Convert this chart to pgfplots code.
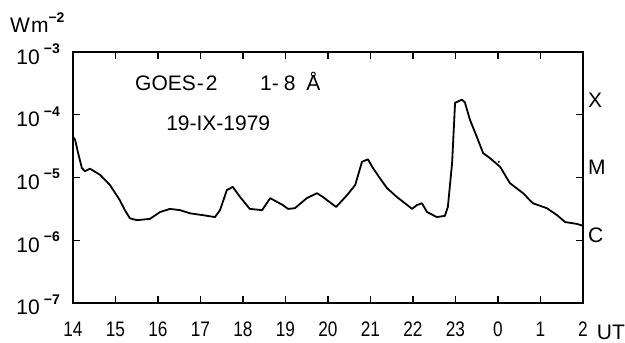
\documentclass[border=0pt]{standalone}
\usepackage{pgfplots}
\pgfplotsset{compat=1.18}
\usepackage{fontspec}
\setmainfont{Liberation Sans}
\newfontfamily\tickfont[FakeStretch=0.82]{Liberation Sans}
\newcommand{\tf}{\tickfont\fontsize{21}{24}\selectfont}
\newcommand{\yf}{\fontsize{21}{24}\selectfont}
\newcommand{\bodyf}{\fontsize{21}{24}\selectfont}
\newcommand{\ex}[1]{10\kern4pt\raisebox{0.5em}{\fontsize{14}{14}\selectfont\bfseries −#1}}
\begin{document}
\fontsize{21}{25}\selectfont
\begin{tikzpicture}[font=\bodyf]
\begin{axis}[
  at={(0,0)}, anchor=south west,
  scale only axis, width=510pt, height=251pt,
  xmin=14, xmax=26, ymode=log, ymin=1e-7, ymax=1e-3,
  xtick={14,...,26},
  xticklabels={14,15,16,17,18,19,20,21,22,23,0,1,2},
  ytick={1e-7,1e-6,1e-5,1e-4,1e-3},
  yticklabels={\ex{7},\ex{6},\ex{5},\ex{4},\ex{3}},
  yminorticks=false,
  tick align=inside, major tick length=7pt,
  xtick pos=both, ytick pos=both,
  tick style={line width=1.2pt, black},
  axis line style={line width=1.6pt},
  xticklabel style={font=\tf, inner sep=0pt, yshift=-19pt},
  yticklabel style={font=\yf, inner sep=0pt, xshift=-13pt, yshift=-2pt},
  every node/.append style={font=\bodyf},
  clip=false,
]
\addplot[black, line width=1.8pt, line join=round] coordinates {
(14.00,4.47e-5) (14.05,3.98e-5) (14.12,2.45e-5) (14.21,1.41e-5) (14.28,1.26e-5)
(14.40,1.38e-5) (14.64,1.10e-5) (14.87,7.59e-6) (15.10,4.37e-6) (15.22,3.02e-6)
(15.34,2.24e-6) (15.50,2.09e-6) (15.81,2.19e-6) (16.05,2.82e-6) (16.28,3.16e-6)
(16.52,3.02e-6) (16.75,2.69e-6) (17.06,2.51e-6) (17.34,2.34e-6) (17.46,3.02e-6)
(17.62,6.31e-6) (17.76,7.08e-6) (17.93,4.90e-6) (18.16,3.16e-6) (18.45,3.02e-6)
(18.64,4.68e-6) (18.94,3.63e-6) (19.06,3.16e-6) (19.22,3.24e-6) (19.50,4.68e-6)
(19.74,5.62e-6) (19.88,4.90e-6) (20.19,3.39e-6) (20.45,5.25e-6) (20.64,7.59e-6)
(20.80,1.78e-5) (20.94,1.95e-5) (21.06,1.41e-5) (21.22,9.77e-6) (21.39,6.76e-6)
(21.62,4.90e-6) (21.98,3.16e-6) (22.09,3.63e-6) (22.21,3.89e-6) (22.33,2.82e-6)
(22.56,2.34e-6) (22.75,2.45e-6) (22.82,3.39e-6) (22.92,1.70e-5) (22.99,1.55e-4)
(23.15,1.74e-4) (23.22,1.58e-4) (23.34,8.32e-5) (23.50,4.47e-5) (23.65,2.45e-5)
(23.81,2.04e-5) (24.05,1.48e-5) (24.28,8.13e-6) (24.59,5.62e-6) (24.82,3.89e-6)
(25.15,3.24e-6) (25.39,2.51e-6) (25.58,1.95e-6) (25.86,1.82e-6) (26.00,1.70e-6)
};
\addplot[only marks, mark=*, mark size=0.8pt, black] coordinates {(24.02,1.78e-5)};
\node[anchor=base west, inner sep=0] at (axis cs:15.46,2.48e-4) {GOES\kern1pt-\kern2pt2};
\node[anchor=base west, inner sep=0] at (axis cs:18.40,2.48e-4) {1-\kern5pt8\kern5pt\ Å};
\node[anchor=base west, inner sep=0] at (axis cs:16.19,5.71e-5) {19-IX-1979};
\node[anchor=base west, inner sep=0] at (axis description cs:-0.1235,1.076) {W\kern1pt m\raisebox{0.5em}{\fontsize{14}{14}\selectfont\bfseries −2}};
\node[anchor=base west, inner sep=0] at (axis description cs:1.0098,0.777) {X};
\node[anchor=base west, inner sep=0] at (axis description cs:1.0098,0.510) {M};
\node[anchor=base west, inner sep=0] at (axis description cs:1.0098,0.243) {C};
\node[anchor=base west, inner sep=0] at (axis description cs:1.027,-0.147) {UT};
\end{axis}
\pgfresetboundingbox
\path[use as bounding box] (-73pt,-40pt) rectangle (552pt,303pt);
\end{tikzpicture}
\end{document}
